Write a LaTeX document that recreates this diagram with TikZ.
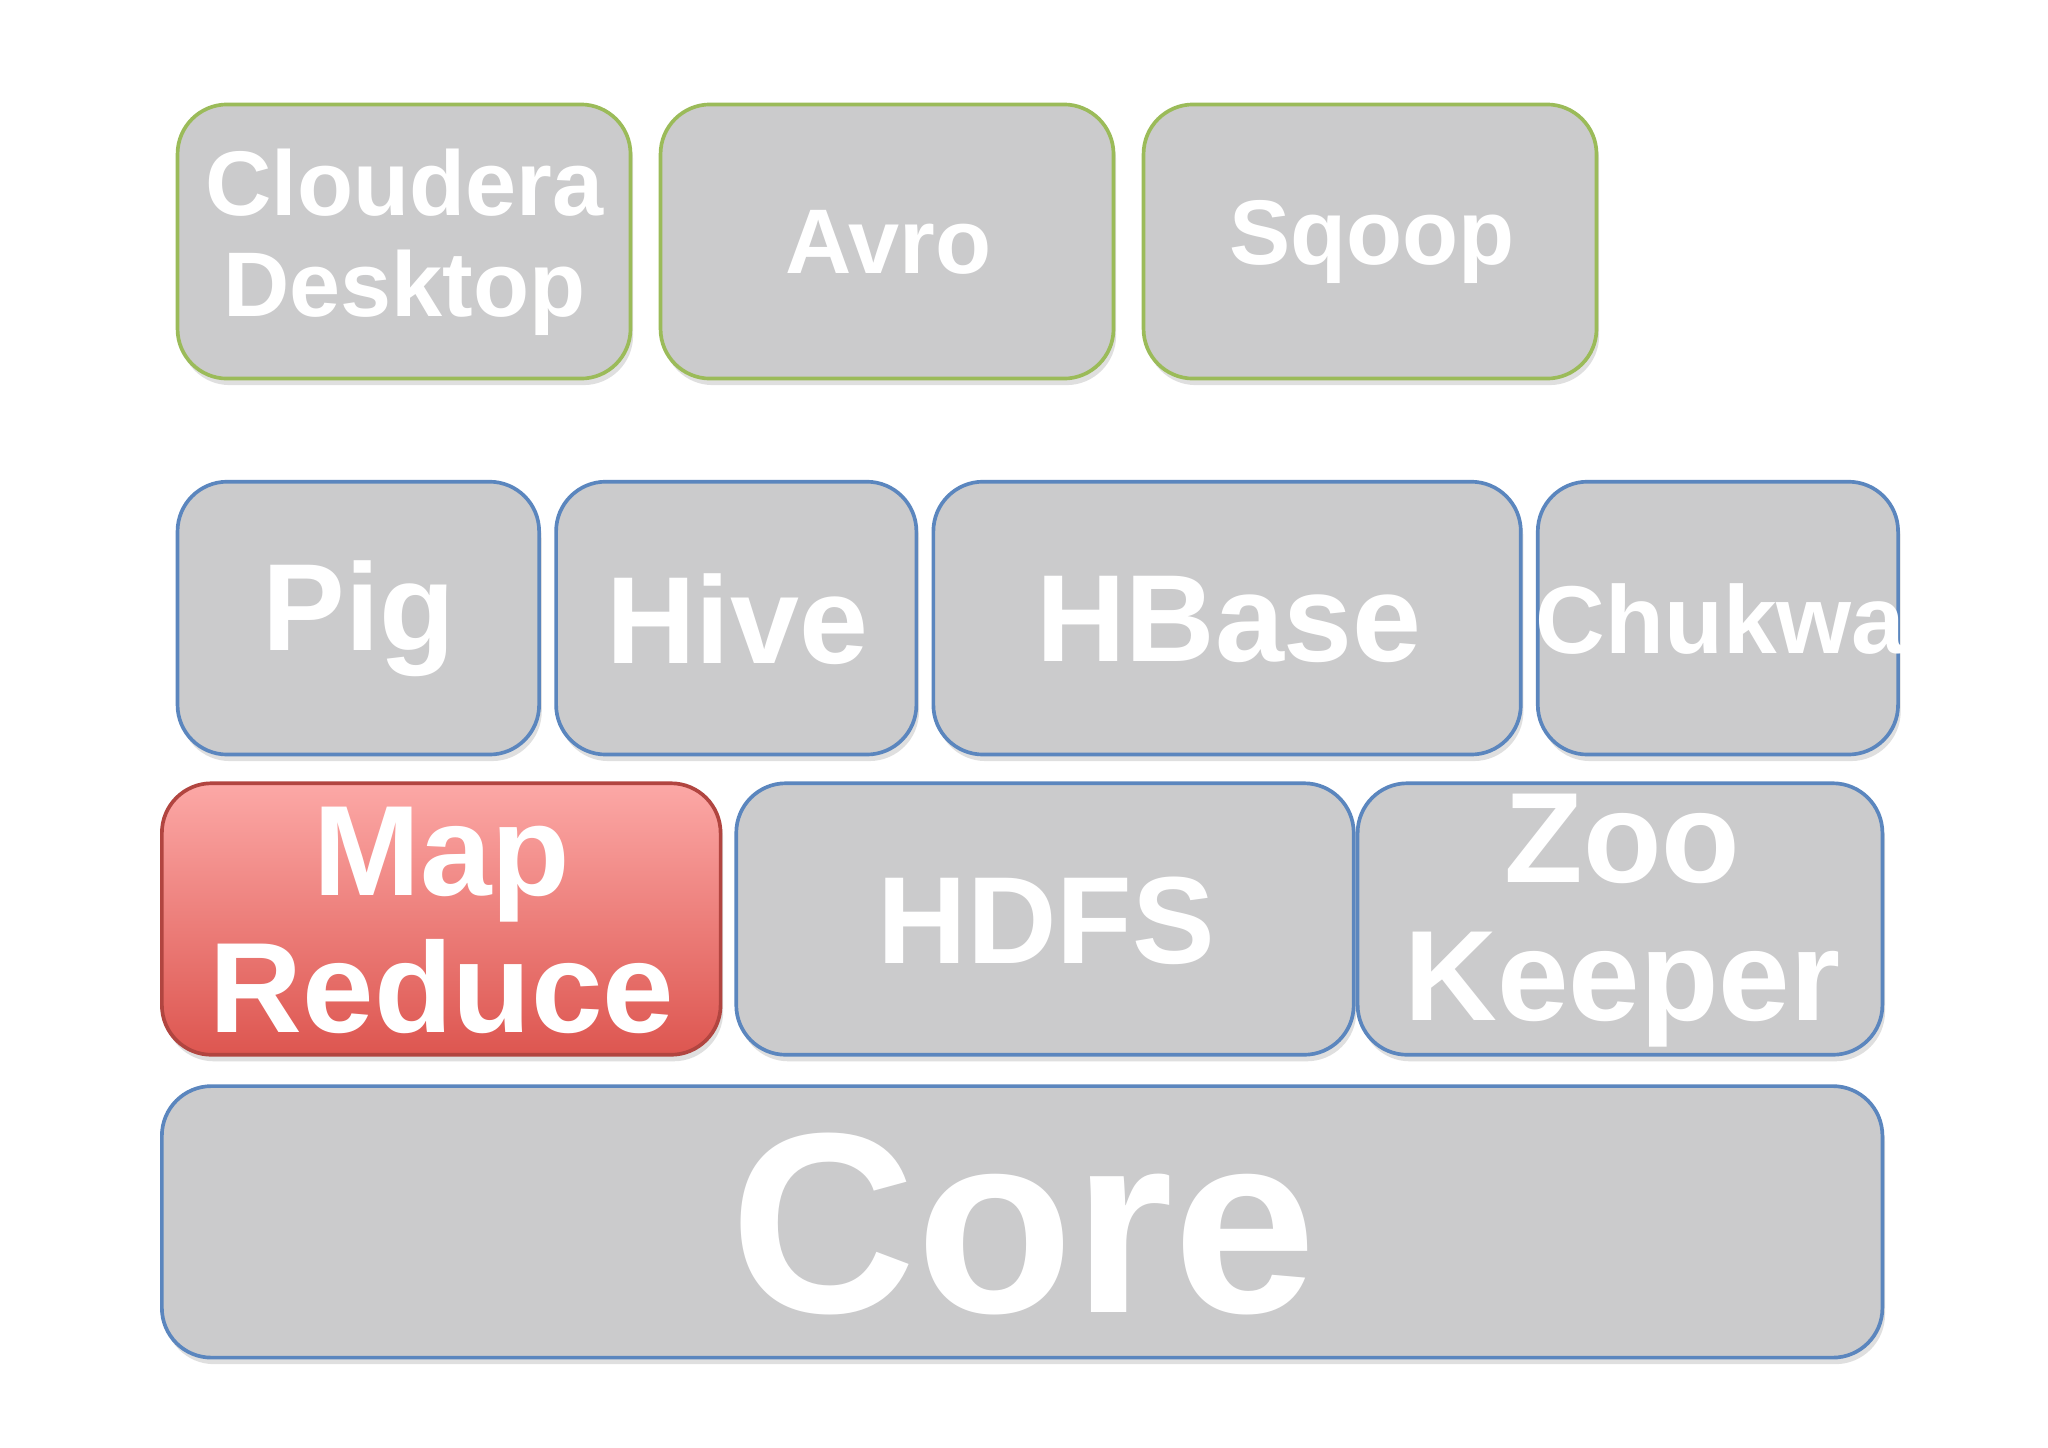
\documentclass[tikz,border=0pt]{standalone}
\usepackage{fontspec}
\setmainfont{Liberation Sans}
\usetikzlibrary{shadows}
\definecolor{boxgray}{HTML}{CBCBCC}
\definecolor{bblue}{HTML}{5B86BE}
\definecolor{bgreen}{HTML}{9BBB59}
\definecolor{redtop}{HTML}{FCA8A6}
\definecolor{redbot}{HTML}{DD5650}
\tikzset{
  blk/.style={draw=bblue, line width=0.8pt, fill=boxgray, rounded corners=0.38cm,
    drop shadow={shadow xshift=0.02cm, shadow yshift=-0.05cm, opacity=0.25}},
  gblk/.style={blk, draw=bgreen},
  rblk/.style={blk, draw=redbot!80!black, top color=redtop, bottom color=redbot},
  lbl/.style={text=white, align=center}
}
\newcommand{\boxat}[7]{%
  \draw[#1] (#2*0.01,-#3*0.01) rectangle (#4*0.01,-#5*0.01);
  \node[lbl, font=\bfseries\fontsize{#7}{#7}\selectfont] (#6) at ({(#2+#4)*0.005},{-(#3+#5)*0.005})}
\begin{document}
\begin{tikzpicture}
\useasboundingbox[fill=white] (0,0) rectangle (15.68,-11.08);
\boxat{gblk}{136}{80}{483}{290}{cd}{20} {Cloudera\\[2pt]Desktop};
\boxat{gblk}{506}{80}{853}{290}{avro}{20} {Avro};
\boxat{gblk}{876}{80}{1223}{290}{sqoop}{20} {Sqoop};
\boxat{blk}{136}{369}{413}{578}{pig}{27} {Pig};
\boxat{blk}{426}{369}{702}{578}{hive}{27} {Hive};
\boxat{blk}{715}{369}{1165}{578}{hbase}{27} {HBase};
\boxat{blk}{1178}{369}{1454}{578}{chukwa}{21} {Chukwa};
\boxat{rblk}{124}{600}{552}{808}{mr}{28} {Map\\[2pt]Reduce};
\boxat{blk}{564}{600}{1037}{808}{hdfs}{27} {HDFS};
\boxat{blk}{1040}{600}{1442}{808}{zk}{28} {Zoo\\[2pt]Keeper};
\boxat{blk}{124}{832}{1442}{1040}{core}{56} {Core};
\end{tikzpicture}
\end{document}
